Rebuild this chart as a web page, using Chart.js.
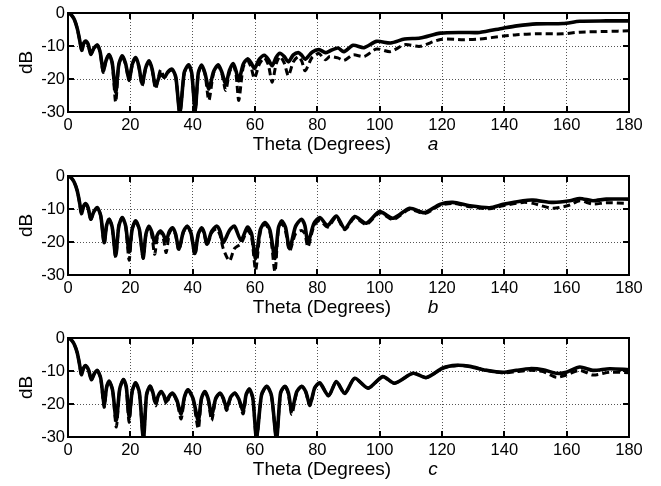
<!DOCTYPE html>
<html>
<head>
<meta charset="utf-8">
<script src="https://cdn.jsdelivr.net/npm/chart.js@4.4.0/dist/chart.umd.min.js"></script>
<style>
  body { margin: 0; background: #fff; }
  #wrap { position: relative; width: 661px; height: 486px; background: #fff; }
  .panel { position: absolute; left: 0; width: 661px; height: 161px; }
</style>
</head>
<body>
<div id="wrap">
  <div class="panel" style="top:0px"><canvas id="chartA"></canvas></div>
  <div class="panel" style="top:163px"><canvas id="chartB"></canvas></div>
  <div class="panel" style="top:325px"><canvas id="chartC"></canvas></div>
</div>
<script>
// angles (degrees) and levels (dB)
// panel a
const thetaA = [0,1,2,3,3.8,4.4,5.0,5.7,6.5,7.3,
  8.3,9.4,10.3,11.3,12.2,13.2,14.2,15.3,16.3,17.4,
  18.5,19.6,20.6,21.7,22.7,23.8,24.9,26,27.0,28.1,
  29.7,30.9,32.1,33.4,34.6,35.9,37.3,38.7,39.7,40.8,
  41.8,42.9,44.0,45.2,46.7,48.2,49.4,50.6,51.8,53,
  53.9,54.8,56.2,57.6,58.7,59.8,61.4,63,64.3,65.5,
  66.8,68,69.4,70.7,72.3,73.9,75.0,76.1,78.3,80.5,82.6,
  84,86.6,88.5,91.5,95,99,103.5,108,113,119.5,127,132,139.6,144,150.3,158.8,164.2,172.7,180];
const solidA = [0,-0.5,-1.9,-4.8,-8.5,-11.3,-9.3,-8.5,-9.6,-12.5,
  -10.7,-9.7,-11.8,-17.5,-14.4,-12.6,-15.2,-24,-15.6,-13,
  -15.4,-20.3,-15.6,-13.5,-16,-21.5,-16.7,-14.5,-17,-22,
  -18.5,-19.5,-17.8,-17,-19.5,-30.5,-18,-15.7,-18.2,-29.5,
  -18.2,-15.8,-18.4,-23,-17.8,-15.7,-18,-21.5,-17.4,-15.3,
  -17.5,-20.5,-15.6,-13.9,-15,-16.8,-14,-12.8,-14.1,-16,
  -13.4,-12.2,-13.2,-14.8,-12.7,-12,-12.8,-14,-11.9,-11.1,-12,
  -11.5,-10.6,-11.7,-9.8,-10.5,-8.6,-9.1,-7.9,-7.6,-6.1,-5.9,-5.9,-4.6,-3.9,-3.3,-3.2,-2.5,-2.4,-2.4];
const dashA = [0,-0.5,-1.9,-4.8,-8.5,-11.3,-9.3,-8.5,-9.6,-12.5,
  -10.7,-9.7,-11.9,-18,-14.4,-12.6,-15.3,-27,-15.8,-13.2,
  -15.6,-20.5,-15.8,-13.7,-16.2,-22,-16.9,-14.7,-17.2,-23,
  -17.2,-19.5,-18,-17.2,-19.7,-30.5,-18.2,-15.9,-18.4,-30,
  -18.4,-16,-18.8,-26.5,-18.2,-16,-18.5,-23.5,-18,-15.8,
  -18.5,-26.5,-16.5,-14.5,-16.3,-19.8,-15.5,-13.6,-15.8,-21,
  -15.4,-13.2,-15.2,-19,-14.8,-13.2,-14.6,-17.5,-13.5,-12.3,-14.2,
  -13.2,-13.6,-14.4,-12.7,-13.2,-10.9,-11.7,-9.6,-10.1,-8.0,-8.1,-7.9,-7.0,-6.6,-6.3,-6.3,-5.8,-5.6,-5.4];

// panel b
const thetaB = [0,1,2,3,3.8,4.3,5.0,5.7,6.5,7.3,
  8.3,9.4,10.5,11.6,12.4,13.2,14.2,15.3,16.3,17.4,
  18.5,19.6,20.6,21.7,22.9,24.1,25.0,26,26.9,27.8,
  28.7,29.7,30.6,31.5,32.5,33.5,34.5,35.6,37.0,38.3,
  39.5,40.7,41.8,42.9,43.7,44.6,46.1,47.7,48.8,49.8,
  51.8,53.4,55.5,57.6,58.9,60.2,61.7,63.2,64.8,66.4,
  67.5,68.6,69.8,71.1,73.0,74.9,76.0,77,78.9,80.8,83.3,
  86.1,88.8,92,95.7,100,104.3,109.6,114.4,119.3,123.5,128.9,135.3,139.6,146,149.2,155.6,161,164.2,168.4,172.7,180];
const solidB = [0,-0.5,-1.9,-4.6,-8.5,-11.4,-9.2,-8.4,-9.8,-13.1,
  -10.8,-9.6,-12,-20.2,-14.9,-13.1,-15.6,-24.2,-15.2,-12.6,
  -15.1,-23,-16.1,-13.6,-16.2,-24.7,-17.6,-15.2,-17,-20.2,
  -17.8,-16.7,-17.8,-19.7,-16.8,-15.7,-17.5,-22.2,-16.9,-15.2,
  -17.4,-23.5,-17.6,-15.7,-17.2,-20.7,-16.8,-15.2,-16.8,-20.2,
  -16.5,-15.2,-19.5,-15.5,-17.5,-25,-16.3,-14.1,-16.4,-25,
  -15.8,-13.6,-15.6,-22,-15.3,-13.1,-15,-20.2,-14.4,-12.6,-15,
  -12.1,-15.9,-12.3,-14.3,-10.8,-12.8,-9.8,-11.1,-8.6,-8.0,-9.0,-9.6,-8.6,-7.5,-7.3,-8.0,-7.5,-6.8,-7.5,-7.0,-7.0];
const dashB = [0,-0.5,-1.9,-4.6,-8.5,-11.4,-9.2,-8.4,-9.8,-13.1,
  -10.8,-9.6,-12.1,-20.5,-14.9,-13.1,-15.6,-24.5,-15.2,-12.6,
  -15.2,-25.5,-16.2,-13.6,-16.4,-25,-17.8,-15.2,-18,-23.7,
  -18.5,-16.7,-19,-23.2,-17.5,-15.9,-17.8,-22.5,-17.1,-15.4,
  -17.6,-24,-17.8,-15.9,-17.4,-21,-17.2,-16,-18,-22,
  -25.7,-22,-20.5,-16.5,-18.5,-28.5,-17,-14.6,-17,-29,
  -16.4,-14.3,-16.8,-22.7,-17.5,-16.5,-17.5,-21.5,-15.2,-13.5,-15.5,
  -12.5,-16.3,-12.7,-14.7,-11.2,-13.2,-10.1,-11.4,-8.9,-8.3,-9.3,-9.9,-9.0,-8.0,-8.3,-9.8,-8.8,-7.5,-8.5,-8.1,-8.3];

// panel c
const thetaC = [0,1,2,3,3.8,4.3,5.0,5.7,6.6,7.5,
  8.5,9.4,10.5,11.6,12.4,13.2,14.3,15.5,16.6,17.8,
  18.7,19.6,20.6,21.7,22.9,24.2,25.2,26.3,27.2,28.1,
  29.0,29.9,30.7,31.6,32.5,33.5,34.9,36.3,37.4,38.5,
  40.1,41.8,42.8,43.9,45.0,46.1,47.4,48.8,49.8,50.9,
  52.2,53.6,54.9,56.2,57.2,58.2,59.3,60.5,62.1,63.8,
  65.3,66.9,68.2,69.6,70.7,71.8,73.4,75,76.3,77.6,
  79.2,80.8,83.6,
  86.1,88.8,92,96.3,101,104.8,110.7,115,120.3,124.6,128.9,134.2,139.6,143.9,148.1,152.4,156.7,159.9,164.2,168.4,173.8,180];
const solidC = [0,-0.5,-1.9,-4.6,-8.5,-11.1,-9.1,-8.4,-9.7,-12.6,
  -10.7,-9.8,-12.2,-20.2,-14.9,-13.1,-15.8,-25,-15.4,-12.6,
  -14.8,-24,-16.1,-13.6,-16.5,-30.5,-17.2,-14.6,-16.4,-19.7,
  -17.4,-16.2,-17.3,-19.2,-17.6,-16.7,-18.8,-23,-17.7,-15.7,
  -18.3,-25,-18.4,-16.2,-18.5,-23.5,-18.3,-16.7,-18.2,-21.2,
  -17.9,-16.7,-18.7,-22,-17,-15.5,-18.2,-30.5,-17.2,-14.6,
  -17.5,-30.5,-16.6,-14.6,-16.6,-22,-16.3,-14.6,-16.3,-20.2,
  -15,-13.6,-17.5,
  -13.2,-16.8,-12.2,-15.2,-11.7,-13.7,-10.7,-12.0,-9.1,-8.3,-8.6,-9.8,-10.4,-9.8,-9.3,-9.6,-10.7,-10.4,-8.8,-9.8,-9.3,-9.6];
const dashC = [0,-0.5,-1.9,-4.6,-8.5,-11.1,-9.1,-8.4,-9.7,-12.6,
  -10.7,-9.8,-12.3,-21,-14.9,-13.1,-15.8,-27,-15.4,-12.6,
  -15,-25.5,-16.2,-13.6,-16.7,-30.5,-17.4,-14.6,-16.6,-20.5,
  -17.6,-16.2,-17.6,-20,-17.8,-16.7,-19.2,-24.5,-17.9,-15.7,
  -18.5,-27.5,-18.6,-16.2,-18.8,-25,-18.5,-16.7,-18.4,-22,
  -18.1,-16.7,-19,-23,-17.3,-15.5,-18.4,-30.5,-17.4,-14.6,
  -17.7,-30.5,-16.8,-14.6,-17,-23.2,-16.5,-14.6,-16.5,-20.5,
  -15.2,-13.6,-17.5,
  -13.2,-16.8,-12.2,-15.2,-11.7,-13.7,-10.7,-12.0,-9.1,-8.3,-8.6,-9.8,-10.6,-10.2,-9.8,-10.2,-11.9,-11.2,-9.8,-11.2,-10.4,-10.5];

const xTicks = [0,20,40,60,80,100,120,140,160,180];
const yTicks = [-30,-20,-10,0];
const xLabel = 'Theta (Degrees)';
const yLabel = 'dB';

const FONT = '"Liberation Sans", Arial, Helvetica, sans-serif';
Chart.defaults.font.family = FONT;
Chart.defaults.color = '#000';

// matlab style box, inward ticks and axis labels
const framePlugin = {
  id: 'frame',
  afterDraw(chart, args, opts) {
    const ctx = chart.ctx;
    const a = chart.chartArea;
    const x = chart.scales.x, y = chart.scales.y;
    ctx.save();
    ctx.strokeStyle = '#000';
    ctx.lineWidth = 2;
    ctx.strokeRect(a.left, a.top, a.right - a.left, a.bottom - a.top);
    ctx.beginPath();
    x.ticks.forEach(t => {
      const px = Math.round(x.getPixelForValue(t.value));
      ctx.moveTo(px, a.top); ctx.lineTo(px, a.top + 6);
      ctx.moveTo(px, a.bottom); ctx.lineTo(px, a.bottom - 6);
    });
    y.ticks.forEach(t => {
      const py = Math.round(y.getPixelForValue(t.value));
      ctx.moveTo(a.left, py); ctx.lineTo(a.left + 6, py);
      ctx.moveTo(a.right, py); ctx.lineTo(a.right - 6, py);
    });
    ctx.stroke();

    ctx.fillStyle = '#000';
    ctx.textBaseline = 'alphabetic';
    ctx.textAlign = 'center';
    ctx.font = '19px ' + FONT;
    ctx.fillText(xLabel, a.left + 254, a.bottom + 38);
    ctx.font = 'italic 19px ' + FONT;
    ctx.fillText(opts.tag, a.left + 365, a.bottom + 38);

    ctx.font = '19px ' + FONT;
    ctx.translate(32, (a.top + a.bottom) / 2);
    ctx.rotate(-Math.PI / 2);
    ctx.fillText(yLabel, 0, 0);
    ctx.restore();
  }
};

function toPoints(theta, vals) {
  if (theta.length !== vals.length) {
    throw new Error('length mismatch ' + theta.length + ' vs ' + vals.length);
  }
  return theta.map((t, i) => ({ x: t, y: vals[i] }));
}

function makePanel(id, theta, solid, dash, tag) {
  const ctx = document.getElementById(id).getContext('2d');
  return new Chart(ctx, {
    type: 'line',
    data: {
      datasets: [
        { data: toPoints(theta, solid), borderColor: '#000', borderWidth: 3.6, pointRadius: 0, tension: 0.25 },
        { data: toPoints(theta, dash), borderColor: '#000', borderWidth: 3, borderDash: [7, 4], pointRadius: 0, tension: 0.25 }
      ]
    },
    options: {
      responsive: true,
      maintainAspectRatio: false,
      animation: false,
      devicePixelRatio: 1,
      layout: { padding: { top: 13, right: 32, left: 0, bottom: 0 } },
      plugins: { legend: { display: false }, tooltip: { enabled: false }, frame: { tag: tag } },
      scales: {
        x: {
          type: 'linear', min: 0, max: 180,
          afterBuildTicks: s => { s.ticks = xTicks.map(v => ({ value: v })); },
          afterFit: s => { s.height = 49; },
          ticks: { font: { size: 16.5 }, padding: 4, maxRotation: 0, autoSkip: false },
          grid: { color: '#555', lineWidth: 1, drawTicks: false },
          border: { display: false, dash: [1, 2] }
        },
        y: {
          type: 'linear', min: -30, max: 0,
          afterBuildTicks: s => { s.ticks = yTicks.map(v => ({ value: v })); },
          afterFit: s => { s.width = 68; },
          ticks: { font: { size: 16.5 }, padding: 3 },
          grid: { color: '#555', lineWidth: 1, drawTicks: false },
          border: { display: false, dash: [1, 2] }
        }
      }
    },
    plugins: [framePlugin]
  });
}

makePanel('chartA', thetaA, solidA, dashA, 'a');
makePanel('chartB', thetaB, solidB, dashB, 'b');
makePanel('chartC', thetaC, solidC, dashC, 'c');
</script>
</body>
</html>
